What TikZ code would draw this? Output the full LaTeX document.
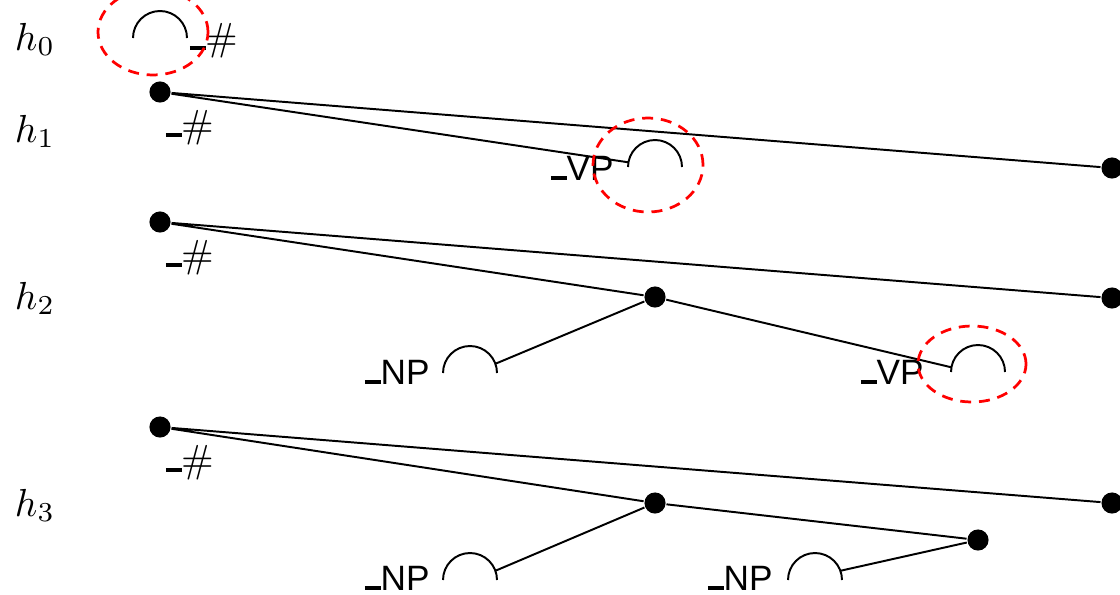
\documentclass[tikz,border=0pt]{standalone}
\usepackage{amsmath, amssymb}
\usepackage{fontspec}
\newfontfamily\labfont[Scale=0.9]{Liberation Sans}
\newcommand{\ubar}{\rule{4pt}{0.9pt}}

\begin{document}
\begin{tikzpicture}[x=0.2556pt, y=0.2556pt, line width=0.5pt,
    dot/.style={circle, fill, inner sep=0pt, minimum size=5.4pt},
    lab/.style={anchor=base west, inner sep=0pt},
    hl/.style={red, line width=0.7pt, dash pattern=on 2.8pt off 2pt},
    hole/.pic={\draw (-27,0) arc[start angle=180, end angle=0, radius=27];
               \coordinate (-w) at (170:27);
               \coordinate (-e) at (20:27);}]
    \useasboundingbox (0,0) rectangle (1120,-594);

    % h_0
    \node[lab] (h0) at (14,-50) {$h_0$};
    \pic (r0) at (160,-38) {hole};
    \node[lab] (s0) at (189,-50) {\ubar\#};
    \draw[hl] (153,-32) ellipse [x radius=55, y radius=43];

    % h_1
    \node[lab] (h1) at (14,-142) {$h_1$};
    \node[dot] (a1) at (160,-92) {};
    \node[lab] (s1) at (165,-137) {\ubar\#};
    \node[dot] (b1) at (1112,-168) {};
    \pic (vp1) at (655,-167) {hole};
    \node[lab] (v1) at (550,-180) {\ubar\labfont VP};
    \draw (a1) -- (b1) (a1) -- (vp1-w);
    \draw[hl] (648,-165) ellipse [x radius=55, y radius=47];

    % h_2
    \node[lab] (h2) at (14,-309) {$h_2$};
    \node[dot] (a2) at (160,-222) {};
    \node[lab] (s2) at (165,-267) {\ubar\#};
    \node[dot] (b2) at (1112,-298) {};
    \node[dot] (c2) at (655,-297) {};
    \pic (np2) at (470,-373) {hole};
    \node[lab] (n2) at (364,-384) {\ubar\labfont NP};
    \pic (vp2) at (978,-372) {hole};
    \node[lab] (v2) at (860,-384) {\ubar\labfont VP};
    \draw (a2) -- (b2) (a2) -- (c2) (c2) -- (np2-e) (c2) -- (vp2-w);
    \draw[hl] (972,-364) ellipse [x radius=54, y radius=38];

    % h_3
    \node[lab] (h3) at (14,-516) {$h_3$};
    \node[dot] (a3) at (160,-427) {};
    \node[lab] (s3) at (165,-472) {\ubar\#};
    \node[dot] (b3) at (1112,-503) {};
    \node[dot] (c3) at (655,-503) {};
    \node[dot] (d3) at (978,-540) {};
    \pic (np3) at (470,-580) {hole};
    \node[lab] (n3) at (364,-590) {\ubar\labfont NP};
    \pic (np4) at (815,-580) {hole};
    \node[lab] (n4) at (707,-590) {\ubar\labfont NP};
    \draw (a3) -- (b3) (a3) -- (c3) (c3) -- (d3) (c3) -- (np3-e) (d3) -- (np4-e);
\end{tikzpicture}
\end{document}
